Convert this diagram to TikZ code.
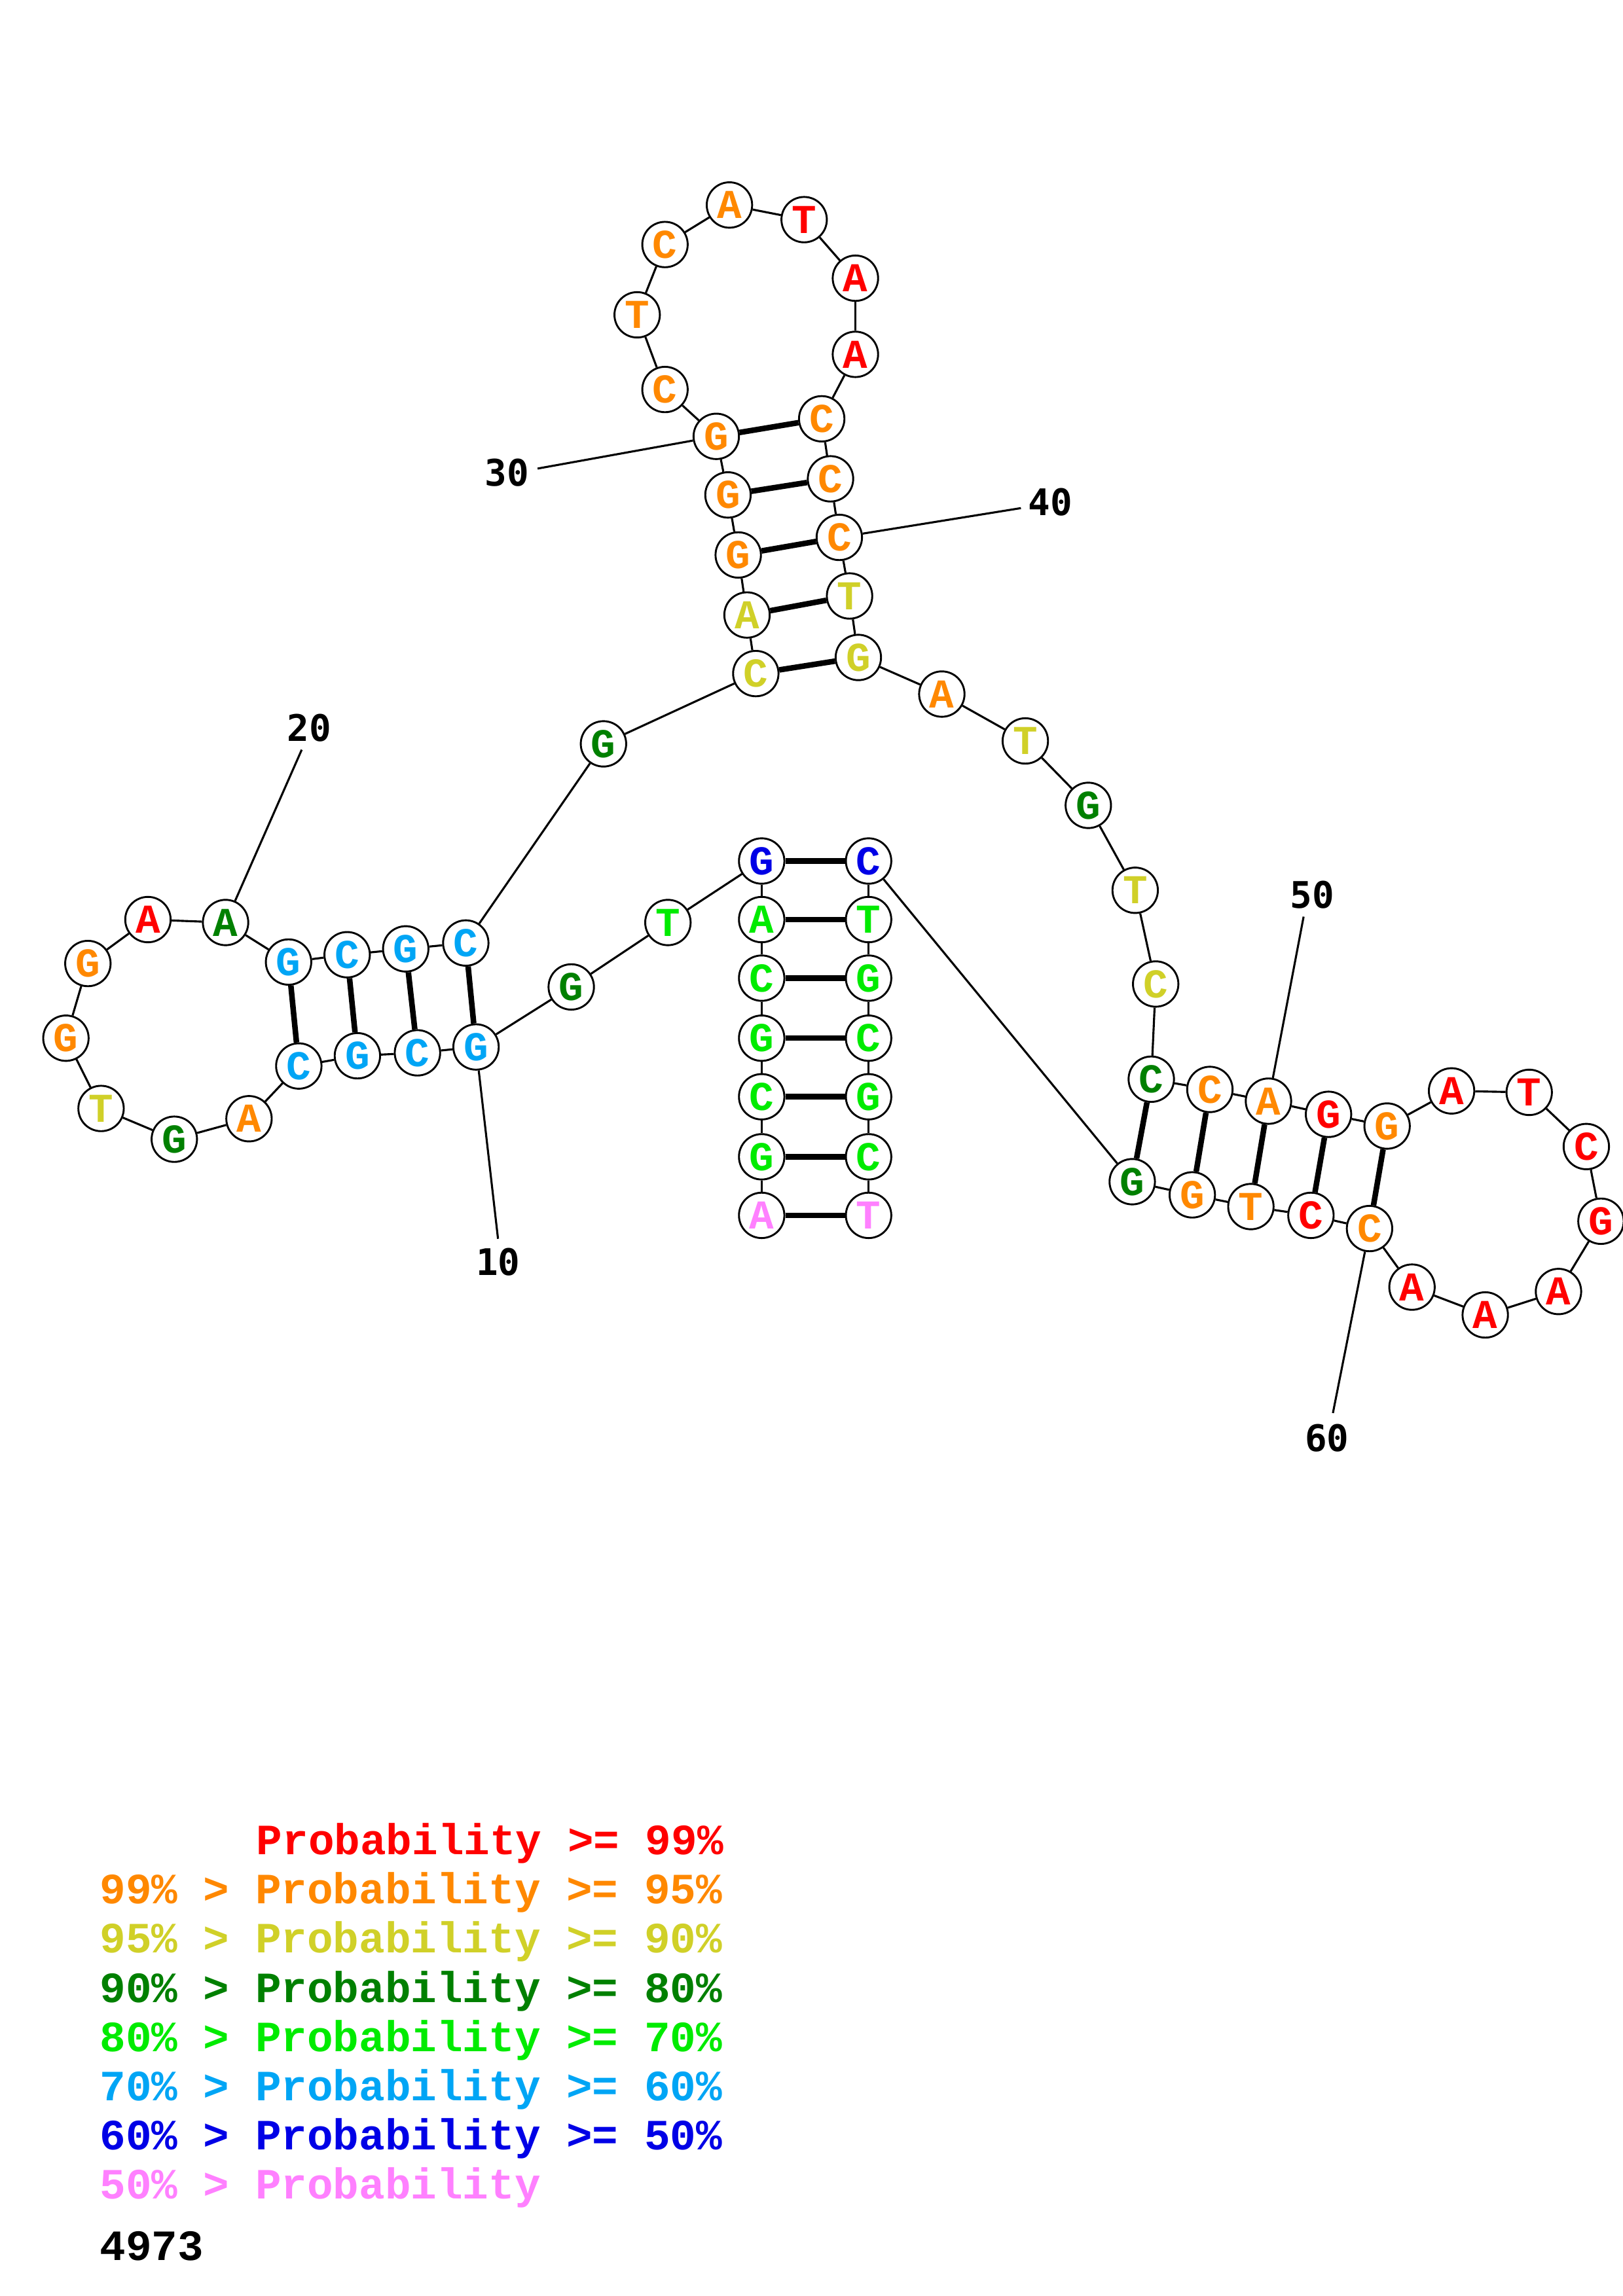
\documentclass[tikz,border=0pt]{standalone}
\usepackage{fontspec}
\setmonofont{Liberation Mono}
\newfontfamily\numfont{DejaVu Sans Mono}
\definecolor{cR}{RGB}{255,0,0}
\definecolor{cO}{RGB}{255,136,0}
\definecolor{cY}{RGB}{208,208,40}
\definecolor{cD}{RGB}{0,128,0}
\definecolor{cG}{RGB}{0,235,0}
\definecolor{cL}{RGB}{0,165,245}
\definecolor{cB}{RGB}{0,0,230}
\definecolor{cP}{RGB}{255,128,255}
\tikzset{
  nt/.style={circle, draw=black, line width=1.3pt, fill=white, minimum size=31pt, inner sep=0pt,
    font=\fontsize{28}{28}\selectfont\ttfamily\bfseries},
  bb/.style={line width=1.4pt, black},
  bp/.style={line width=3.8pt, black},
  numlbl/.style={font=\fontsize{25}{25}\selectfont\numfont\bfseries, inner sep=0pt},
  numline/.style={line width=1.4pt, black},
  leg/.style={anchor=base west, inner sep=0pt, font=\fontsize{29.5}{29.5}\selectfont\ttfamily\bfseries}
}
\begin{document}
\begin{tikzpicture}[x=1pt,y=-1pt]
\useasboundingbox[fill=white] (0,0) rectangle (1108,1568);
\foreach \i/\x/\y/\l/\c in {
1/520/830/A/cP, 2/520/790/G/cG, 3/520/749/C/cG, 4/520/709/G/cG, 5/520/668/C/cG,
6/520/628/A/cG, 7/520/588/G/cB, 8/456/630/T/cG, 9/390/674/G/cD, 10/325/715/G/cL,
11/285/719/C/cL, 12/244/721/G/cL, 13/204/728/C/cL, 14/170/764/A/cO, 15/119/778/G/cD,
16/69/757/T/cY, 17/45/709/G/cO, 18/60/658/G/cO, 19/101/628/A/cR, 20/154/630/A/cD,
21/197/657/G/cL, 22/237/652/C/cL, 23/277/648/G/cL, 24/318/644/C/cL, 25/412/508/G/cD,
26/516/460/C/cY, 27/510/420/A/cY, 28/504/379/G/cO, 29/497/338/G/cO, 30/489/298/G/cO,
31/454/266/C/cO, 32/435/215/T/cO, 33/454/167/C/cO, 34/498/140/A/cO, 35/549/150/T/cR,
36/584/190/A/cR, 37/584/242/A/cR, 38/561/286/C/cO, 39/567/327/C/cO, 40/573/367/C/cO,
41/580/407/T/cY, 42/586/449/G/cY, 43/643/474/A/cO, 44/700/506/T/cY, 45/743/550/G/cD,
46/775/608/T/cY, 47/789/672/C/cY, 48/786/737/C/cD, 49/826/744/C/cO, 50/866/752/A/cO,
51/907/761/G/cR, 52/947/769/G/cO, 53/991/745/A/cR, 54/1044/746/T/cR, 55/1083/783/C/cR,
56/1093/834/G/cR, 57/1064/882/A/cR, 58/1014/898/A/cR, 59/964/879/A/cR, 60/935/839/C/cO,
61/895/830/C/cR, 62/854/824/T/cO, 63/814/816/G/cO, 64/773/807/G/cD, 65/593/588/C/cB,
66/593/628/T/cG, 67/593/668/G/cG, 68/593/709/C/cG, 69/593/749/G/cG, 70/593/790/C/cG,
71/593/830/T/cP}
  \node[nt,text=\c] (n\i) at (\x,\y) {\l};
\foreach \i [evaluate=\i as \j using int(\i+1)] in {1,...,70}
  \draw[bb] (n\i) -- (n\j);
\foreach \a/\b in {1/71,2/70,3/69,4/68,5/67,6/66,7/65,10/24,11/23,12/22,13/21,
  26/42,27/41,28/40,29/39,30/38,48/64,49/63,50/62,51/61,52/60}
  \draw[bp] (n\a) -- (n\b);
% position labels
\node[numlbl] (l10) at (340,862) {10};
\node[numlbl] (l20) at (211,497) {20};
\node[numlbl] (l30) at (346,323) {30};
\node[numlbl] (l40) at (717,343) {40};
\node[numlbl] (l50) at (896,611) {50};
\node[numlbl] (l60) at (906,982) {60};
\coordinate (e10) at (340,846);
\coordinate (e20) at (206,512);
\coordinate (e30) at (367,320);
\coordinate (e40) at (697,347);
\coordinate (e50) at (890,626);
\coordinate (e60) at (910,965);
\draw[numline] (e10) -- (n10);
\draw[numline] (e20) -- (n20);
\draw[numline] (e30) -- (n30);
\draw[numline] (e40) -- (n40);
\draw[numline] (e50) -- (n50);
\draw[numline] (e60) -- (n60);
% legend
\node[leg,text=cR] (g1) at (175,1266.5) {Probability >= 99\%};
\node[leg,text=cO] (g2) at (68,1300.1) {99\% > Probability >= 95\%};
\node[leg,text=cY] (g3) at (68,1333.7) {95\% > Probability >= 90\%};
\node[leg,text=cD] (g4) at (68,1367.3) {90\% > Probability >= 80\%};
\node[leg,text=cG] (g5) at (68,1400.9) {80\% > Probability >= 70\%};
\node[leg,text=cL] (g6) at (68,1434.5) {70\% > Probability >= 60\%};
\node[leg,text=cB] (g7) at (68,1468.1) {60\% > Probability >= 50\%};
\node[leg,text=cP] (g8) at (68,1501.7) {50\% > Probability};
\node[leg,text=black] (g9) at (68,1543.5) {4973};
\end{tikzpicture}
\end{document}
